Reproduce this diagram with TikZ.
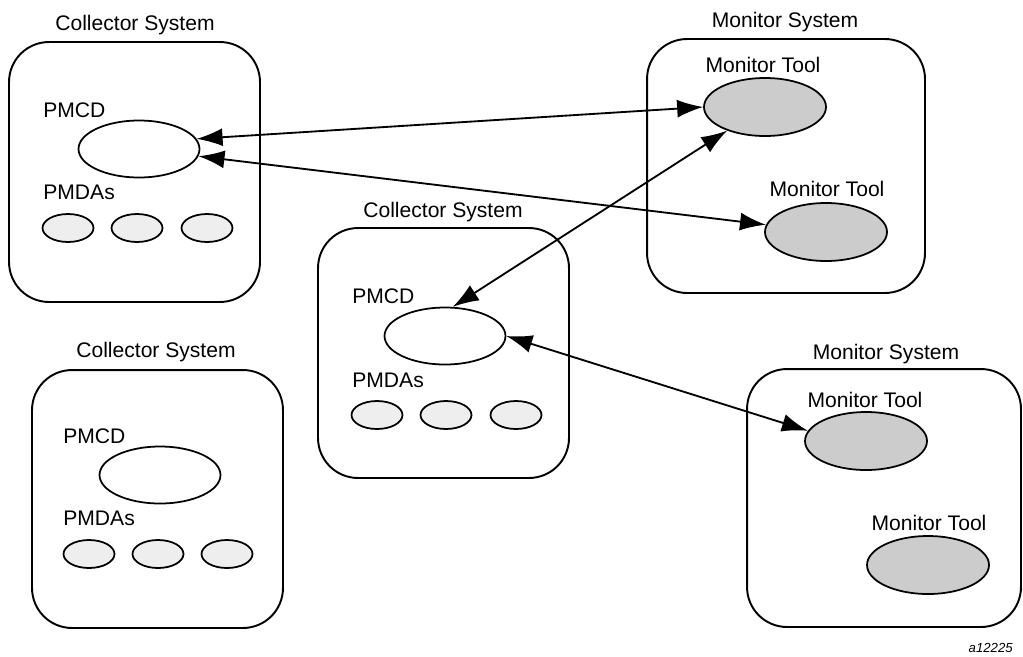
\documentclass[tikz,border=0pt]{standalone}
\usepackage{fontspec}
\setmainfont{Liberation Sans}
\usetikzlibrary{arrows.meta,positioning,shapes.geometric}
\tikzset{font={\fontsize{12pt}{14}\selectfont}}

\begin{document}
\begin{tikzpicture}[x=0.02cm,y=-0.02cm,
system/.style={draw,line width=1.1pt,rounded corners=0.8cm},
daemon/.style={draw,ellipse,line width=1pt,fill=white,minimum width=2.42cm,minimum height=1.14cm},
pmda/.style={draw,ellipse,line width=1pt,fill=gray!13,minimum width=1.02cm,minimum height=0.56cm},
tool/.style={draw,ellipse,line width=1pt,fill=gray!40,minimum width=2.44cm,minimum height=1.16cm},
title/.style={anchor=base,inner sep=0pt},
lbl/.style={anchor=base west,inner sep=0pt},
link/.style={{Latex[length=5.2mm,width=3.6mm]}-{Latex[length=5.2mm,width=3.6mm]},line width=1.05pt}
]
\useasboundingbox (0,0) rectangle (1023,656);

% collector systems
\node[system,minimum width=5.02cm,minimum height=5.2cm] (collA) at (134.5,172) {};
\node[title] (collAt) at (135,30) {Collector System};
\node[lbl] (pmcdAt) at (43,117) {PMCD};
\node[daemon] (pmcdA) at (139,149) {};
\node[lbl] (pmdaAt) at (43,199) {PMDAs};
\foreach \x [count=\i] in {68,137,207}\node[pmda] (pmdaA\i) at (\x,228) {};

\node[system,minimum width=5.02cm,minimum height=5cm] (collB) at (443.5,353) {};
\node[title] (collBt) at (443,217) {Collector System};
\node[lbl] (pmcdBt) at (352,303) {PMCD};
\node[daemon] (pmcdB) at (445,336) {};
\node[lbl] (pmdaBt) at (352,387) {PMDAs};
\foreach \x [count=\i] in {377,446,516}\node[pmda] (pmdaB\i) at (\x,415) {};

\node[system,minimum width=5.02cm,minimum height=5.16cm] (collC) at (157.5,499) {};
\node[title] (collCt) at (156,357) {Collector System};
\node[lbl] (pmcdCt) at (63,443) {PMCD};
\node[daemon] (pmcdC) at (160,475) {};
\node[lbl] (pmdaCt) at (63,525) {PMDAs};
\foreach \x [count=\i] in {89,158,227}\node[pmda] (pmdaC\i) at (\x,554) {};

% monitor systems
\node[system,minimum width=5.56cm,minimum height=5.08cm] (monA) at (786,166) {};
\node[title] (monAt) at (785,27) {Monitor System};
\node[title] (toolAt) at (763,72) {Monitor Tool};
\node[tool] (toolA) at (765,107) {};
\node[title] (toolBt) at (827,196) {Monitor Tool};
\node[tool] (toolB) at (826,232) {};

\node[system,minimum width=5.48cm,minimum height=5.16cm] (monB) at (884,498) {};
\node[title] (monBt) at (886,359) {Monitor System};
\node[title] (toolCt) at (865,407) {Monitor Tool};
\node[tool] (toolC) at (866,441) {};
\node[title] (toolDt) at (929,530) {Monitor Tool};
\node[tool] (toolD) at (928,565) {};

% connections
\draw[link] (pmcdA.10) -- (toolA.west);
\draw[link] (pmcdA) -- (toolB);
\draw[link] (toolA.212) -- (pmcdB.75);
\draw[link] (pmcdB.east) -- (toolC.170);

\node[anchor=base east,inner sep=0pt,font={\fontsize{7.5pt}{9}\selectfont\itshape}] (fig) at (1013,652) {a12225};

\end{tikzpicture}
\end{document}
